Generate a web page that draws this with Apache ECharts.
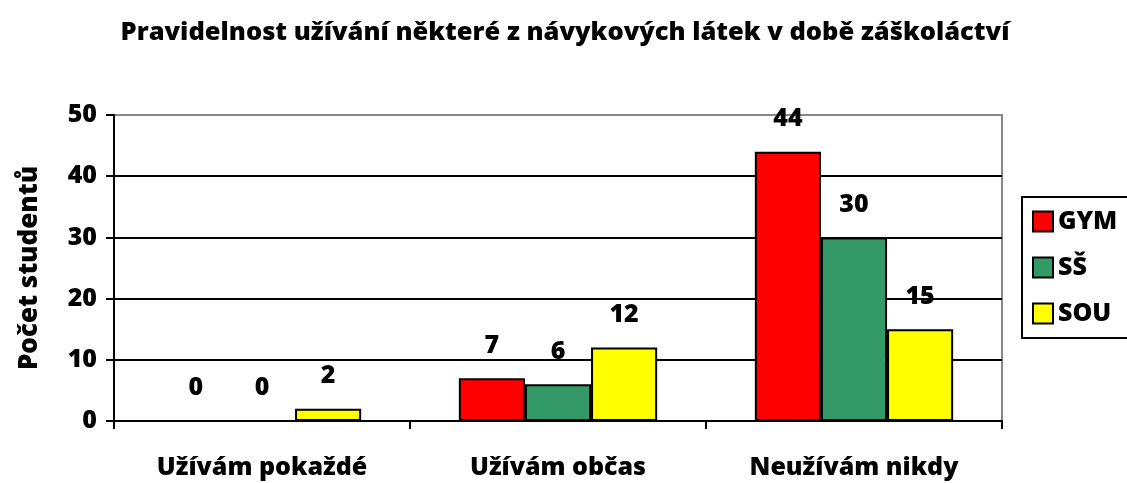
<!DOCTYPE html>
<html>
<head>
<meta charset="utf-8">
<script src="https://cdn.jsdelivr.net/npm/echarts@6/dist/echarts.min.js"></script>
<style>
  html, body { margin: 0; padding: 0; background: #fff; }
  #main { width: 1127px; height: 483px; }
</style>
</head>
<body>
<div id="main"></div>
<script>
  var categories = ['Užívám pokaždé', 'Užívám občas', 'Neužívám nikdy'];
  var seriesNames = ['GYM', 'SŠ', 'SOU'];
  var gymData = [0, 7, 44];
  var ssData = [0, 6, 30];
  var souData = [2, 12, 15];
  var colors = ['#ff0000', '#339966', '#ffff00'];

  var font = '"Open Sans", "DejaVu Sans", sans-serif';
  var weight = 800;

  function makeSeries(name, data, color) {
    return {
      name: name,
      type: 'bar',
      data: data,
      barGap: '0%',
      barCategoryGap: '33%',
      itemStyle: { color: color, borderColor: '#000', borderWidth: 2 },
      label: {
        show: true,
        position: 'top',
        distance: 20,
        color: '#000',
        fontFamily: font,
        fontWeight: weight,
        fontSize: 25
      }
    };
  }

  var myChart = echarts.init(document.getElementById('main'));
  var option = {
    animation: false,
    color: colors,
    title: {
      text: 'Pravidelnost užívání některé z návykových látek v době záškoláctví',
      left: 560,
      textAlign: 'center',
      top: 15,
      textStyle: { fontFamily: font, fontWeight: weight, fontSize: 25.5, color: '#000' }
    },
    legend: {
      orient: 'vertical',
      left: 1022,
      top: 197,
      padding: [12, 20, 12, 10],
      itemGap: 21,
      itemWidth: 20,
      itemHeight: 20,
      borderColor: '#000',
      borderWidth: 2,
      icon: 'rect',
      data: seriesNames,
      textStyle: { fontFamily: font, fontWeight: weight, fontSize: 25, color: '#000', padding: [0, 0, 0, 0] }
    },
    grid: {
      left: 114,
      right: 125,
      top: 115,
      bottom: 62,
      show: true,
      borderColor: '#888',
      borderWidth: 2
    },
    xAxis: {
      type: 'category',
      data: categories,
      axisLine: { lineStyle: { color: '#000', width: 2 } },
      axisTick: { show: true, length: 8, lineStyle: { color: '#000', width: 2 } },
      axisLabel: { margin: 34, color: '#000', fontFamily: font, fontWeight: weight, fontSize: 25 }
    },
    yAxis: {
      type: 'value',
      min: 0,
      max: 50,
      interval: 10,
      name: 'Počet studentů',
      nameLocation: 'middle',
      nameRotate: 90,
      nameGap: 71,
      nameTextStyle: { color: '#000', fontFamily: font, fontWeight: weight, fontSize: 26 },
      axisLine: { show: true, lineStyle: { color: '#000', width: 2 } },
      axisTick: { show: true, length: 8, lineStyle: { color: '#000', width: 2 } },
      axisLabel: { margin: 17, color: '#000', fontFamily: font, fontWeight: weight, fontSize: 25 },
      splitLine: { lineStyle: { color: ['#000', '#000', '#000', '#000', '#000', '#888'], width: 2 } }
    },
    series: [
      makeSeries(seriesNames[0], gymData, colors[0]),
      makeSeries(seriesNames[1], ssData, colors[1]),
      makeSeries(seriesNames[2], souData, colors[2])
    ]
  };
  myChart.setOption(option, true);
</script>
</body>
</html>
